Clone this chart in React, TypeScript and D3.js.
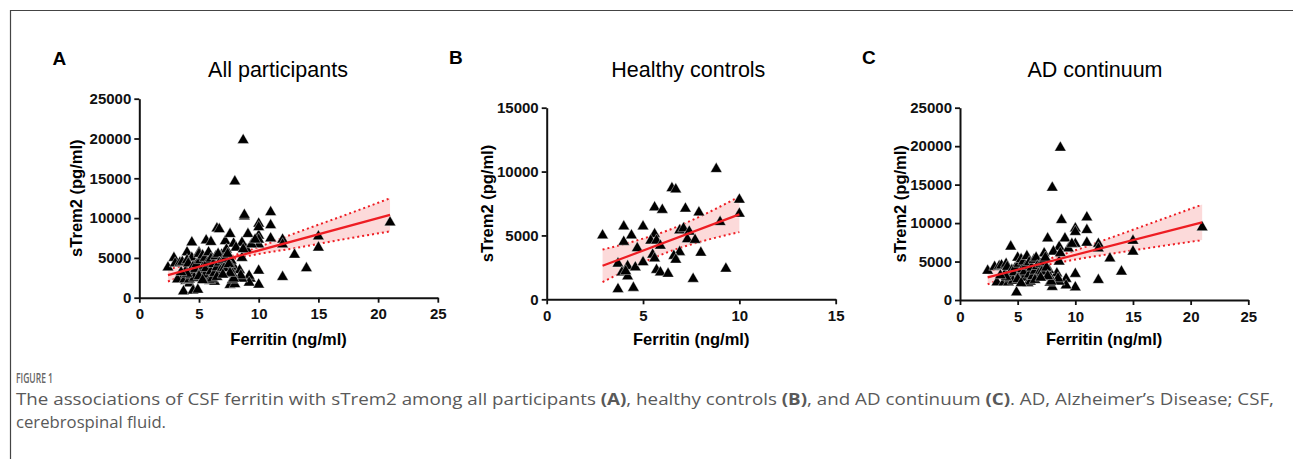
import React, { useEffect, useRef } from "react";
import * as d3 from "d3";

// ---- panel B: healthy controls ----
const hcFerritin = [2.9, 4.0, 4.0, 4.4, 5.0, 4.7, 3.7, 4.2, 3.9, 4.2, 4.6, 3.7, 4.5, 5.0, 5.6, 5.4, 5.7, 5.9, 5.5, 5.6, 5.7, 5.9, 6.3, 5.6, 6.0, 6.5, 6.7, 7.2, 7.9, 8.8, 10.0, 10.0, 9.0, 9.3, 7.6, 8.0, 6.9, 7.1, 7.4, 7.3, 7.7, 6.9, 6.6, 6.7, 4.1];
const hcTrem2 = [5000, 5700, 4500, 5000, 5700, 4000, 2800, 2600, 2100, 1800, 2500, 800, 900, 2900, 5100, 4600, 4600, 4200, 3500, 3200, 2300, 2100, 2000, 7200, 7000, 8700, 8600, 7100, 6800, 10200, 7800, 6700, 6050, 2400, 1600, 3650, 5400, 5550, 5300, 4700, 4650, 3700, 3400, 3100, 2200];

// ---- panel C: AD continuum ----
const adFerritin = [
  8.7, 8.0, 8.8, 11.0, 10.0, 10.0, 11.0, 7.6, 9.1, 11.0, 12.0, 12.0, 15.0, 15.0, 21.0, 13.0, 14.0, 12.0, 4.4, 8.6,
  9.4, 10.0, 9.7, 8.1, 7.3, 10.0, 10.0, 9.2, 9.2, 8.6, 8.0, 7.8, 8.4, 8.5, 8.6, 7.7, 7.8, 7.9, 8.7,
  2.4, 3.0, 3.2, 3.4, 3.6, 3.8, 3.9, 4.0, 4.1, 4.2, 4.3, 4.4, 4.5, 4.6, 4.7, 4.8, 4.9, 5.0, 5.1, 5.2,
  5.3, 5.4, 5.5, 5.5, 5.6, 5.7, 5.8, 5.9, 6.0, 6.0, 6.1, 6.2, 6.3, 6.4, 6.5, 6.6, 6.7, 6.8, 7.0, 7.1,
  7.2, 7.4, 7.5, 7.6, 5.0, 5.3, 6.5, 7.0, 4.0, 3.5,
];
const adTrem2 = [
  19800, 14600, 10400, 10750, 9300, 8850, 9100, 8000, 8000, 7450, 7300, 6700, 7700, 6300, 9450, 5400, 3700, 2600, 6950, 6900,
  6700, 7300, 7300, 6300, 6050, 3400, 1650, 2750, 1900, 2400, 1700, 2250, 3450, 2800, 5000, 3900, 3000, 2400, 6100,
  3800, 4300, 2300, 4400, 4500, 2300, 3400, 4700, 4300, 2300, 2800, 3300, 3900, 2500, 3600, 4200, 1000, 5500, 4700, 3400,
  5300, 4000, 5000, 2900, 3700, 4400, 5700, 2200, 3300, 4900, 2400, 4200, 3100, 5200, 3800, 5500, 4400, 3400, 4700, 3700,
  4900, 5500, 4200, 3100, 2700, 2200, 2600, 2900, 3000, 3200,
];

// ---- panel A: all participants = controls + AD continuum ----
const allFerritin = [...hcFerritin, ...adFerritin];
const allTrem2 = [...hcTrem2, ...adTrem2];

// fitted line and 95% band
const allLineX = [2.4, 21];
const allLineY = [2840, 10410];
const allBandX = [2.4, 5, 7.5, 10, 13, 17, 21];
const allBandLow = [2040, 3470, 4710, 5490, 6220, 7310, 8330];
const allBandHigh = [3640, 4330, 5130, 6370, 8080, 10250, 12490];

const hcLineX = [2.9, 10];
const hcLineY = [2620, 6650];
const hcBandX = [2.9, 4.5, 6.3, 8, 10];
const hcBandLow = [1350, 2530, 3700, 4515, 5260];
const hcBandHigh = [3890, 4530, 5400, 6515, 8040];

const adLineX = [2.4, 21];
const adLineY = [2940, 10100];
const adBandX = [2.4, 5, 7, 10, 13, 17, 21];
const adBandLow = [2040, 3460, 4360, 5260, 5985, 6900, 7800];
const adBandHigh = [3840, 4420, 5060, 6460, 8055, 10220, 12400];

const letters = ["A", "B", "C"];
const titles = ["All participants", "Healthy controls", "AD continuum"];
const xTicksWide = [0, 5, 10, 15, 20, 25];
const xTicksNarrow = [0, 5, 10, 15];
const yTicksWide = [0, 5000, 10000, 15000, 20000, 25000];
const yTicksNarrow = [0, 5000, 10000, 15000];

const FONT = "'Liberation Sans', Arial, Helvetica, sans-serif";

const panels = [
  {
    ferritin: allFerritin, trem: allTrem2, xMax: 25, yMax: 25000, xTicks: xTicksWide, yTicks: yTicksWide,
    lineX: allLineX, lineY: allLineY, bandX: allBandX, bandLow: allBandLow, bandHigh: allBandHigh,
    left: 139.3, right: 437.8, top: 98.7, bottom: 297.7, letterX: 52.5, letterY: 65, titleX: 278, yTitleX: 81.5,
  },
  {
    ferritin: hcFerritin, trem: hcTrem2, xMax: 15, yMax: 15000, xTicks: xTicksNarrow, yTicks: yTicksNarrow,
    lineX: hcLineX, lineY: hcLineY, bandX: hcBandX, bandLow: hcBandLow, bandHigh: hcBandHigh,
    left: 546.7, right: 835.7, top: 107.7, bottom: 299.3, letterX: 449, letterY: 63.5, titleX: 688.3, yTitleX: 493,
  },
  {
    ferritin: adFerritin, trem: adTrem2, xMax: 25, yMax: 25000, xTicks: xTicksWide, yTicks: yTicksWide,
    lineX: adLineX, lineY: adLineY, bandX: adBandX, bandLow: adBandLow, bandHigh: adBandHigh,
    left: 960, right: 1248.3, top: 107.7, bottom: 300, letterX: 862, letterY: 63.5, titleX: 1095, yTitleX: 906,
  },
];

const drawPanel = (svg: any, p: any, i: number) => {
  const x = d3.scaleLinear().domain([0, p.xMax]).range([p.left, p.right]);
  const y = d3.scaleLinear().domain([0, p.yMax]).range([p.bottom, p.top]);
  const g = svg.append("g");

  // panel letter + title
  g.append("text").attr("x", p.letterX).attr("y", p.letterY)
    .attr("font-family", FONT).attr("font-weight", "bold").attr("font-size", 19).text(letters[i]);
  g.append("text").attr("x", p.titleX).attr("y", 76.7).attr("text-anchor", "middle")
    .attr("font-family", FONT).attr("font-size", 21.5).text(titles[i]);

  // confidence band
  const band = p.bandX.map((v: number, k: number) => [v, p.bandLow[k], p.bandHigh[k]]);
  const area = d3.area<any>().x(d => x(d[0])).y0(d => y(d[1])).y1(d => y(d[2])).curve(d3.curveMonotoneX);
  g.append("path").attr("d", area(band)).attr("fill", "#fcdada");

  const edge = (idx: number) => d3.line<any>().x(d => x(d[0])).y(d => y(d[idx])).curve(d3.curveMonotoneX)(band);
  [1, 2].forEach(idx => {
    g.append("path").attr("d", edge(idx)).attr("fill", "none")
      .attr("stroke", "#ee1d23").attr("stroke-width", 2).attr("stroke-dasharray", "2 3");
  });

  // points
  const sym = d3.symbol().type(d3.symbolTriangle).size(58);
  g.append("g").selectAll("path")
    .data(p.ferritin.map((v: number, k: number) => [v, p.trem[k]]))
    .enter().append("path")
    .attr("d", sym)
    .attr("transform", (d: any) => `translate(${x(d[0])},${y(d[1])})`)
    .attr("fill", "#000").attr("stroke", "#fff").attr("stroke-width", 0.4);

  // regression line
  g.append("line")
    .attr("x1", x(p.lineX[0])).attr("y1", y(p.lineY[0]))
    .attr("x2", x(p.lineX[1])).attr("y2", y(p.lineY[1]))
    .attr("stroke", "#ee1d23").attr("stroke-width", 2.2);

  // axes
  const fmt = d3.format("d");
  const xAxis = g.append("g").attr("transform", `translate(0,${p.bottom})`)
    .call(d3.axisBottom(x).tickValues(p.xTicks).tickFormat(fmt as any).tickSize(5).tickSizeOuter(0).tickPadding(6));
  const yAxis = g.append("g").attr("transform", `translate(${p.left},0)`)
    .call(d3.axisLeft(y).tickValues(p.yTicks).tickFormat(fmt as any).tickSize(5).tickSizeOuter(0).tickPadding(3));
  [xAxis, yAxis].forEach(a => {
    a.select(".domain").attr("stroke", "#111").attr("stroke-width", 2);
    a.selectAll(".tick line").attr("stroke", "#111").attr("stroke-width", 1.8);
    a.selectAll(".tick text").attr("font-family", FONT).attr("font-weight", "bold")
      .attr("font-size", 15).attr("fill", "#111");
  });

  // axis titles
  g.append("text").attr("x", (p.left + p.right) / 2).attr("y", 345).attr("text-anchor", "middle")
    .attr("font-family", FONT).attr("font-weight", "bold").attr("font-size", 16.5).text("Ferritin (ng/ml)");
  g.append("text")
    .attr("transform", `translate(${p.yTitleX},${(p.top + p.bottom) / 2}) rotate(-90)`)
    .attr("text-anchor", "middle")
    .attr("font-family", FONT).attr("font-weight", "bold").attr("font-size", 16.5).text("sTrem2 (pg/ml)");
};

export default function App() {
  const ref = useRef<SVGSVGElement>(null);

  useEffect(() => {
    const svg = d3.select(ref.current);
    svg.selectAll("g.figure").remove();
    const root = svg.append("g").attr("class", "figure");
    panels.forEach((p, i) => drawPanel(root, p, i));
  }, []);

  return (
    <svg ref={ref} width={1293} height={459}
      style={{ position: "absolute", left: 0, top: 0, background: "#fff" }}>
      {/* frame */}
      <path d="M10.5,470 V10.5 H1300" fill="none" stroke="#444" strokeWidth={1.2} />
      {/* caption */}
      <text x={16} y={383} fontFamily="'Open Sans', sans-serif" fontSize={14} fontWeight={600}
        fill="#666" textLength={37} lengthAdjust="spacingAndGlyphs">FIGURE 1</text>
      <text x={16} y={405} fontFamily="'Open Sans', sans-serif" fontSize={15.5} fill="#595959"
        textLength={1258} lengthAdjust="spacingAndGlyphs">
        The associations of CSF ferritin with sTrem2 among all participants <tspan fontWeight="bold">(A)</tspan>, healthy
        controls <tspan fontWeight="bold">(B)</tspan>, and AD continuum <tspan fontWeight="bold">(C)</tspan>. AD, Alzheimer’s Disease; CSF,
      </text>
      <text x={16} y={428} fontFamily="'Open Sans', sans-serif" fontSize={15.5} fill="#595959"
        textLength={150} lengthAdjust="spacingAndGlyphs">cerebrospinal fluid.</text>
    </svg>
  );
}
